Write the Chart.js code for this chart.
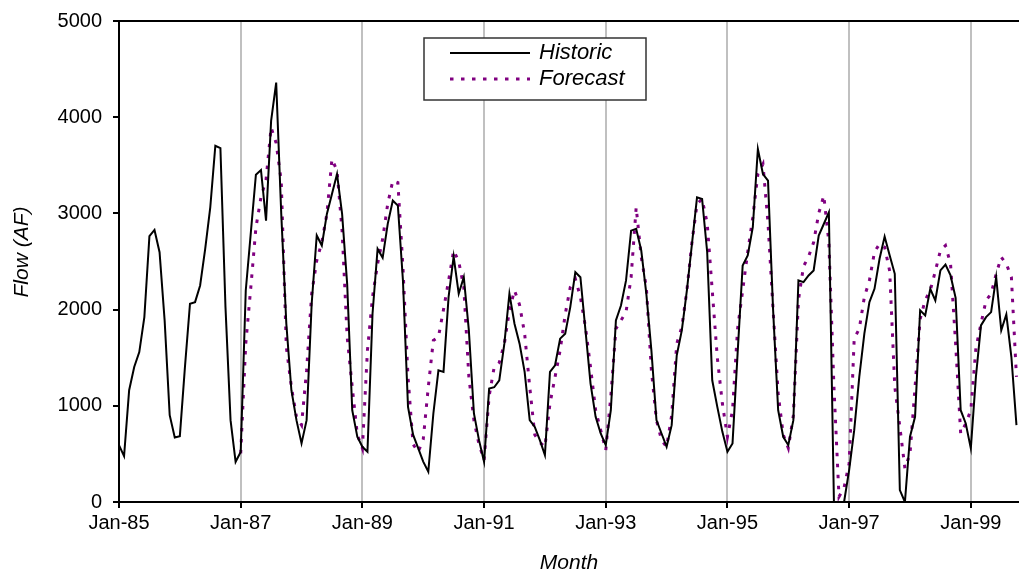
<!DOCTYPE html>
<html>
<head>
<meta charset="utf-8">
<script src="https://cdn.jsdelivr.net/npm/chart.js@4/dist/chart.umd.min.js"></script>
<style>
  html, body { margin: 0; padding: 0; background: #fff; }
  #wrap { width: 1019px; height: 576px; }
</style>
</head>
<body>
<div id="wrap"><canvas id="chart" width="1019" height="576"></canvas></div>
<script>
// Monthly categories, Jan-85 through Oct-99
const monthNames = ['Jan','Feb','Mar','Apr','May','Jun','Jul','Aug','Sep','Oct','Nov','Dec'];
const months = [];
for (let y = 1985; y <= 1999; y++) {
  for (let m = 0; m < 12; m++) {
    months.push(monthNames[m] + '-' + String(y).slice(2));
    if (y === 1999 && m === 9) break;
  }
}

// Labelled ticks on the time axis
const tickLabels = ['Jan-85', 'Jan-87', 'Jan-89', 'Jan-91', 'Jan-93', 'Jan-95', 'Jan-97', 'Jan-99'];

// Observed monthly flow (AF), Jan-85 .. Oct-99
const historic = [
  591, 477, 1162, 1404, 1559, 1922, 2763, 2828, 2597, 1888, 902, 671,
  685, 1400, 2061, 2078, 2251, 2631, 3063, 3703, 3679, 2026, 851, 418,
  520, 2199, 2800, 3402, 3451, 2925, 3962, 4360, 2995, 1853, 1162, 851,
  609, 851, 2061, 2770, 2666, 2995, 3202, 3409, 2995, 2268, 954, 678,
  574, 522, 1957, 2631, 2538, 2891, 3133, 3081, 2303, 989, 700, 560,
  420, 315, 920, 1369, 1352, 2130, 2552, 2165, 2337, 1784, 920, 643,
  418, 1179, 1193, 1265, 1646, 2165, 1853, 1646, 1352, 851, 781, 643,
  488, 1352, 1421, 1698, 1750, 2026, 2389, 2337, 1784, 1231, 885, 712,
  591, 954, 1888, 2043, 2303, 2821, 2839, 2614, 2165, 1577, 851, 712,
  574, 799, 1525, 1784, 2199, 2683, 3167, 3150, 2600, 1265, 989, 729,
  522, 609, 1542, 2458, 2562, 2856, 3669, 3409, 3340, 2000, 954, 678,
  591, 851, 2303, 2285, 2355, 2407, 2770, 2890, 3011, 0, 0, 0,
  332, 747, 1300, 1750, 2078, 2216, 2528, 2759, 2562, 2372, 124, 0,
  678, 885, 1992, 1940, 2216, 2095, 2407, 2469, 2355, 2123, 954, 816,
  557, 1300, 1836, 1922, 1974, 2337, 1784, 1950, 1507, 799
];

// Forecast monthly flow (AF), Jan-87 .. Oct-99
const forecastStart = 'Jan-87';
const forecast = [
  505, 1646, 2233, 2850, 3167, 3350, 3893, 3731, 3330, 1611, 1196, 885,
  800, 1370, 2165, 2510, 2700, 2995, 3565, 3444, 2821, 1715, 1196, 700,
  557, 1577, 2130, 2476, 2735, 3100, 3340, 3320, 2441, 1300, 600, 520,
  650, 1196, 1680, 1715, 2000, 2300, 2614, 2500, 2233, 1300, 850, 600,
  436, 1100, 1404, 1450, 1646, 1992, 2200, 2050, 1750, 1200, 700, 620,
  574, 1023, 1300, 1577, 1950, 2233, 2320, 2130, 1818, 1400, 954, 747,
  539, 1100, 1800, 1888, 1974, 2337, 3063, 2545, 2233, 1369, 850, 643,
  574, 900, 1646, 1818, 2200, 2700, 3098, 3150, 2900, 2200, 1500, 1023,
  678, 954, 1800, 2200, 2600, 2960, 3409, 3513, 2900, 2000, 1127, 700,
  560, 900, 2100, 2450, 2550, 2700, 3000, 3185, 2700, 1200, 55, 150,
  400, 1700, 1800, 2130, 2303, 2600, 2683, 2650, 2400, 1200, 781, 350,
  500, 1196, 1900, 2100, 2200, 2400, 2614, 2666, 2476, 1646, 712, 816,
  954, 1600, 1853, 2095, 2165, 2372, 2545, 2476, 2337, 1300
];

const FONT = 'Arial, "Liberation Sans", sans-serif';
const yTitle = 'Flow (AF)';

const histPoints = historic.map((v, i) => ({ x: i, y: v }));
const fcOffset = months.indexOf(forecastStart);
const fcPoints = forecast.map((v, i) => ({ x: i + fcOffset, y: v }));

// Plot frame top edge and the vertical axis title
const frameLine = {
  id: 'frameLine',
  afterDraw(chart) {
    const { ctx, chartArea: a } = chart;
    ctx.save();
    ctx.strokeStyle = '#000';
    ctx.lineWidth = 2;
    ctx.beginPath();
    ctx.moveTo(a.left - 1, a.top);
    ctx.lineTo(a.right, a.top);
    ctx.stroke();
    ctx.translate(22, 252);
    ctx.rotate(-Math.PI / 2);
    ctx.fillStyle = '#000';
    ctx.font = 'italic 21px ' + FONT;
    ctx.textAlign = 'center';
    ctx.textBaseline = 'middle';
    ctx.fillText(yTitle, 0, 0);
    ctx.restore();
  }
};

// Boxed legend inside the plotting area
const boxLegend = {
  id: 'boxLegend',
  afterDraw(chart) {
    const { ctx } = chart;
    const bx = 424, by = 38, bw = 222, bh = 62;
    ctx.save();
    ctx.fillStyle = '#fff';
    ctx.fillRect(bx, by, bw, bh);
    ctx.strokeStyle = '#333';
    ctx.lineWidth = 1.5;
    ctx.strokeRect(bx, by, bw, bh);
    const rows = [53, 79];
    chart.data.datasets.forEach((ds, k) => {
      const y = rows[k];
      ctx.strokeStyle = ds.borderColor;
      ctx.lineWidth = ds.borderWidth;
      ctx.setLineDash(ds.borderDash || []);
      ctx.beginPath();
      ctx.moveTo(450, y);
      ctx.lineTo(530, y);
      ctx.stroke();
      ctx.setLineDash([]);
      ctx.fillStyle = '#000';
      ctx.font = 'italic 22px ' + FONT;
      ctx.textBaseline = 'middle';
      ctx.textAlign = 'left';
      ctx.fillText(ds.label, 539, y);
    });
    ctx.restore();
  }
};

new Chart(document.getElementById('chart'), {
  type: 'line',
  data: {
    datasets: [
      {
        label: 'Historic',
        data: histPoints,
        borderColor: '#000000',
        borderWidth: 2,
        pointRadius: 0,
        tension: 0,
        fill: false
      },
      {
        label: 'Forecast',
        data: fcPoints,
        borderColor: '#800080',
        borderWidth: 3,
        borderDash: [3.5, 7.5],
        pointRadius: 0,
        tension: 0,
        fill: false
      }
    ]
  },
  options: {
    responsive: false,
    animation: false,
    layout: { padding: { top: 20, right: 0, left: 0, bottom: 0 } },
    plugins: {
      legend: { display: false },
      tooltip: { enabled: false }
    },
    scales: {
      x: {
        type: 'linear',
        min: 0,
        max: months.length - 0.5,
        afterBuildTicks(scale) {
          scale.ticks = tickLabels.map(l => ({ value: months.indexOf(l) }));
        },
        afterFit(scale) { scale.height = 74; },
        ticks: {
          autoSkip: false,
          maxRotation: 0,
          padding: 5,
          color: '#000',
          font: { family: FONT, size: 20, lineHeight: 1 },
          callback: (v) => months[v]
        },
        grid: {
          drawOnChartArea: true,
          color: (c) => (c.tick && c.tick.value === 0) ? 'rgba(0,0,0,0)' : '#c0c0c0',
          lineWidth: 2,
          tickColor: '#000',
          tickLength: 6
        },
        border: { display: true, color: '#000', width: 2 },
        title: {
          display: true,
          text: 'Month',
          color: '#000',
          font: { family: FONT, size: 21, style: 'italic' },
          padding: { top: 0, bottom: 0 }
        }
      },
      y: {
        min: 0,
        max: 5000,
        afterFit(scale) { scale.width = 119; },
        ticks: {
          stepSize: 1000,
          padding: 11,
          color: '#000',
          font: { family: FONT, size: 20, lineHeight: 1 },
          callback: (v) => String(v)
        },
        grid: {
          drawOnChartArea: false,
          tickColor: '#000',
          tickLength: 6,
          lineWidth: 2
        },
        border: { display: true, color: '#000', width: 2 }
      }
    }
  },
  plugins: [frameLine, boxLegend]
});
</script>
</body>
</html>
